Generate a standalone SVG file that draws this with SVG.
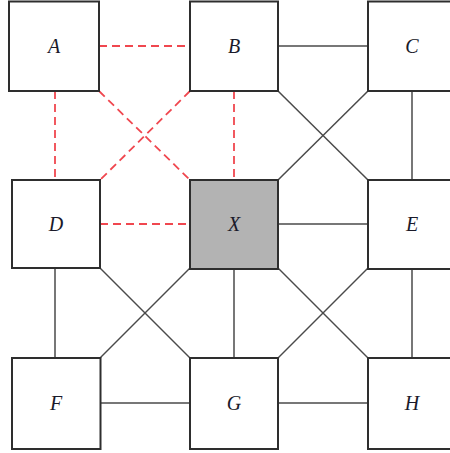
<svg xmlns="http://www.w3.org/2000/svg" width="450" height="453" viewBox="0 0 450 453">
<style>
.box{fill:#fff;stroke:#2e2e2e;stroke-width:2}
.gx{fill:#b3b3b3}
.lbl{font-family:"Liberation Serif","DejaVu Serif",serif;font-style:italic;font-size:20px;fill:#1a1a2a;text-anchor:middle;dominant-baseline:central}
.s{stroke:#4a4a4a;stroke-width:1.5;fill:none}
.d{stroke:#f0474f;stroke-width:1.8;stroke-dasharray:8,5;fill:none}
</style>
<rect width="450" height="453" fill="#fff"/>
<g id="connectors">
<line class="d" x1="99" y1="46" x2="190" y2="46"/>
<line class="d" x1="55" y1="91" x2="55" y2="180"/>
<line class="d" x1="99" y1="91" x2="190" y2="180"/>
<line class="d" x1="190" y1="91" x2="100" y2="180"/>
<line class="d" x1="234" y1="91" x2="234" y2="180"/>
<line class="d" x1="100" y1="224" x2="190" y2="224"/>
<line class="s" x1="278" y1="46" x2="368" y2="46"/>
<line class="s" x1="278" y1="91" x2="368" y2="180"/>
<line class="s" x1="368" y1="91" x2="278" y2="180"/>
<line class="s" x1="412" y1="91" x2="412" y2="180"/>
<line class="s" x1="278" y1="224" x2="368" y2="224"/>
<line class="s" x1="55" y1="268" x2="55" y2="358"/>
<line class="s" x1="100" y1="268" x2="190" y2="358"/>
<line class="s" x1="190" y1="268" x2="100" y2="358"/>
<line class="s" x1="234" y1="268" x2="234" y2="358"/>
<line class="s" x1="278" y1="268" x2="368" y2="358"/>
<line class="s" x1="368" y1="268" x2="278" y2="358"/>
<line class="s" x1="412" y1="268" x2="412" y2="358"/>
<line class="s" x1="100" y1="403" x2="190" y2="403"/>
<line class="s" x1="278" y1="403" x2="368" y2="403"/>
</g>
<g id="A"><rect class="box" x="9" y="1.5" width="90" height="89.5"/><text class="lbl" x="54" y="46">A</text></g>
<g id="B"><rect class="box" x="190" y="1.5" width="88" height="89.5"/><text class="lbl" x="234" y="46">B</text></g>
<g id="C"><rect class="box" x="368" y="1.5" width="90" height="89.5"/><text class="lbl" x="412" y="46">C</text></g>
<g id="D"><rect class="box" x="12" y="180" width="88" height="88"/><text class="lbl" x="56" y="224">D</text></g>
<g id="X"><rect class="box gx" x="190" y="180" width="88" height="89"/><text class="lbl" x="234" y="224">X</text></g>
<g id="E"><rect class="box" x="368" y="180" width="90" height="89"/><text class="lbl" x="412" y="224">E</text></g>
<g id="F"><rect class="box" x="12" y="358" width="88.5" height="91"/><text class="lbl" x="56" y="403">F</text></g>
<g id="G"><rect class="box" x="190" y="358" width="88" height="91"/><text class="lbl" x="234" y="403">G</text></g>
<g id="H"><rect class="box" x="368" y="358" width="90" height="91"/><text class="lbl" x="412" y="403">H</text></g>
</svg>
